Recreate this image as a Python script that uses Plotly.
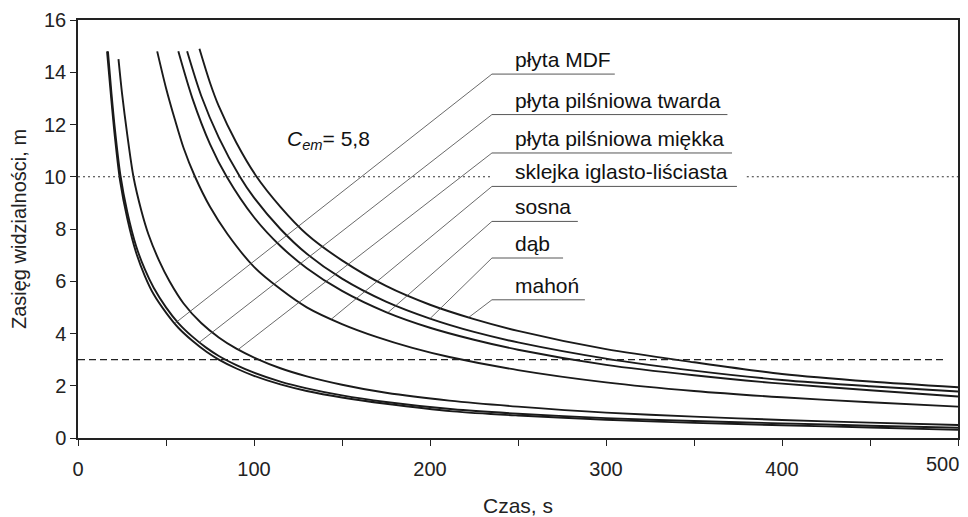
import numpy as np
import plotly.graph_objects as go

# ---- data ----
names = ["płyta MDF", "płyta pilśniowa twarda", "płyta pilśniowa miękka",
         "sklejka iglasto-liściasta", "sosna", "dąb", "mahoń"]

t_mdf = [16.5, 19, 21, 24, 28, 33, 38, 43, 50, 57, 65, 73, 80, 90, 100, 115, 130, 150, 175, 213, 250, 300, 350, 400, 450, 500]
v_mdf = [14.8, 12.9, 11.5, 9.8, 8.4, 7.1, 6.2, 5.5, 4.8, 4.22, 3.72, 3.3, 3.0, 2.66, 2.38, 2.05, 1.8, 1.55, 1.31, 1.02, 0.86, 0.7, 0.58, 0.49, 0.4, 0.31]

t_twarda = [17, 19, 21, 24, 28, 33, 38, 43, 50, 57, 65, 73, 80, 90, 100, 115, 130, 150, 175, 213, 250, 300, 350, 400, 450, 500]
v_twarda = [14.8, 13.2, 11.8, 10.1, 8.65, 7.35, 6.45, 5.75, 5.0, 4.4, 3.88, 3.45, 3.14, 2.79, 2.5, 2.16, 1.9, 1.63, 1.38, 1.1, 0.93, 0.76, 0.65, 0.56, 0.47, 0.39]

t_miekka = [23, 25, 28, 31.5, 36, 40, 46, 52, 60, 70, 80, 90, 101, 115, 130, 150, 175, 211, 250, 300, 350, 400, 450, 500]
v_miekka = [14.5, 13.2, 11.6, 10.0, 8.7, 7.8, 6.8, 6.0, 5.15, 4.4, 3.85, 3.42, 3.05, 2.67, 2.36, 2.04, 1.73, 1.43, 1.2, 0.97, 0.82, 0.69, 0.59, 0.5]

t_sklejka = [45, 50, 55, 60, 66.5, 75, 85, 100, 115, 130, 150, 170, 190, 211, 250, 300, 350, 400, 450, 500]
v_sklejka = [14.8, 13.4, 12.2, 11.1, 10.0, 8.85, 7.8, 6.55, 5.7, 5.0, 4.36, 3.86, 3.45, 3.1, 2.6, 2.13, 1.8, 1.56, 1.37, 1.2]

t_sosna = [57, 65, 75, 84.5, 100, 115, 130, 150, 175, 200, 225, 250, 300, 350, 400, 450, 500]
v_sosna = [14.8, 13.0, 11.25, 10.0, 8.45, 7.35, 6.5, 5.63, 4.82, 4.22, 3.76, 3.38, 2.8, 2.4, 2.08, 1.83, 1.59]

t_dab = [62, 70, 80, 92, 100, 115, 130, 150, 175, 200, 225, 250, 300, 350, 400, 450, 500]
v_dab = [14.8, 13.1, 11.5, 10.0, 9.2, 8.0, 7.05, 6.1, 5.22, 4.57, 4.06, 3.66, 3.04, 2.58, 2.22, 1.98, 1.78]

t_mahon = [69, 75, 80, 90, 101, 115, 130, 150, 175, 200, 225, 250, 300, 350, 400, 450, 500]
v_mahon = [14.9, 13.6, 12.7, 11.3, 10.05, 8.85, 7.8, 6.8, 5.82, 5.1, 4.55, 4.1, 3.4, 2.9, 2.45, 2.16, 1.94]

series_t = [t_mdf, t_twarda, t_miekka, t_sklejka, t_sosna, t_dab, t_mahon]
series_v = [v_mdf, v_twarda, v_miekka, v_sklejka, v_sosna, v_dab, v_mahon]

# time at which each label's leader touches its curve
leader_t = [55, 69, 91, 144, 176, 200, 222]

level_dotted = 10
level_dashed = 3
x_ticks = [0, 100, 200, 300, 400, 500]
y_ticks = [0, 2, 4, 6, 8, 10, 12, 14, 16]

# ---- layout constants (positions of the label block) ----
leader_x0 = 235.2
label_x = 247
underline_y = [13.93, 12.38, 10.91, 9.63, 8.29, 6.89, 5.29]
underline_x1 = [305, 369, 371.6, 374.4, 284, 275.6, 288]

FONT = "Liberation Sans, Arial, sans-serif"

fig = go.Figure()
for n, t, v in zip(names, series_t, series_v):
    fig.add_trace(go.Scatter(x=t, y=v, mode="lines", name=n,
                             line=dict(color="#1a1a1a", width=1.9, shape="spline", smoothing=0.8),
                             showlegend=False, hoverinfo="skip"))

shapes = []
# reference lines
shapes.append(dict(type="line", xref="x", yref="y", x0=0, x1=leader_x0, y0=level_dotted, y1=level_dotted,
                   line=dict(color="#333", width=1, dash="2px,3px")))
shapes.append(dict(type="line", xref="x", yref="y", x0=380, x1=500, y0=level_dotted, y1=level_dotted,
                   line=dict(color="#333", width=1, dash="2px,3px")))
shapes.append(dict(type="line", xref="x", yref="y", x0=0, x1=492, y0=level_dashed, y1=level_dashed,
                   line=dict(color="#222", width=1.4, dash="7px,4px")))

annotations = []
for i, n in enumerate(names):
    te = leader_t[i]
    ve = float(np.interp(te, series_t[i], series_v[i]))
    shapes.append(dict(type="line", xref="x", yref="y", x0=leader_x0, y0=underline_y[i], x1=te, y1=ve,
                       line=dict(color="#444", width=0.8)))
    shapes.append(dict(type="line", xref="x", yref="y", x0=leader_x0, y0=underline_y[i],
                       x1=underline_x1[i], y1=underline_y[i], line=dict(color="#444", width=0.9)))
    annotations.append(dict(x=label_x, y=underline_y[i], xref="x", yref="y", text=n, showarrow=False,
                            xanchor="left", yanchor="bottom", yshift=1,
                            font=dict(family=FONT, size=21, color="#111")))

annotations.append(dict(x=117.6, y=11.42, xref="x", yref="y",
                        text="<i>C</i><sub><i>em</i></sub>= 5,8", showarrow=False,
                        xanchor="left", yanchor="middle",
                        font=dict(family=FONT, size=21, color="#111")))

# last x tick label, drawn as text so that it is not dropped at the figure edge
annotations.append(dict(x=x_ticks[-1], y=0, xref="x", yref="paper", text=str(x_ticks[-1]),
                        showarrow=False, xanchor="center", yanchor="top", yshift=-13, xshift=-16,
                        font=dict(family=FONT, size=20, color="#222")))

# the page adds an 8px body margin, so the figure is 8px smaller than the window
fig.update_layout(
    width=960, height=509,
    margin=dict(l=70, r=10, t=12, b=79),
    paper_bgcolor="white", plot_bgcolor="white",
    shapes=shapes, annotations=annotations,
    font=dict(family=FONT, size=20, color="#222"),
)
fig.update_xaxes(range=[0, 500], tickvals=x_ticks[:-1],
                 ticks="outside", ticklen=6, tickwidth=1.2, ticklabelstandoff=6,
                 tickcolor="#222", showline=True, linecolor="#222", linewidth=1.5, mirror=True,
                 showgrid=False, zeroline=False, automargin=False,
                 minor=dict(dtick=50, ticks="outside", ticklen=6, tickwidth=1.2, tickcolor="#222"),
                 tickfont=dict(family=FONT, size=20, color="#222"),
                 title=dict(text="Czas, s", font=dict(family=FONT, size=21, color="#222"), standoff=22))
fig.update_yaxes(range=[0, 16], tickvals=y_ticks, ticks="outside", ticklen=6, tickwidth=1.2,
                 tickcolor="#222", showline=True, linecolor="#222", linewidth=1.5, mirror=True,
                 showgrid=False, zeroline=False, automargin=False,
                 tickfont=dict(family=FONT, size=20, color="#222"),
                 title=dict(text="Zasięg widzialności, m", font=dict(family=FONT, size=20, color="#222"), standoff=16))

fig.write_html("out.html")
